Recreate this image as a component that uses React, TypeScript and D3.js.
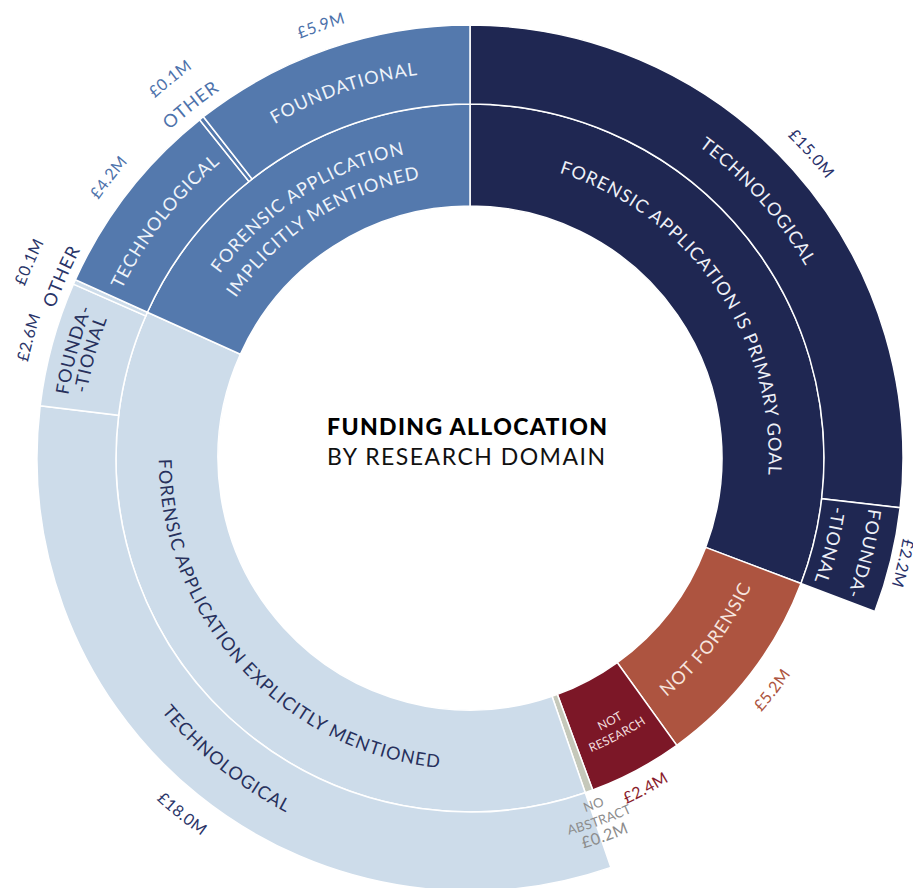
import React from "react";
import * as d3 from "d3";

// ---------- data ----------
const groupNames = ["primary", "notForensic", "notResearch", "noAbstract", "explicit", "implicit"];
const groupLabels = [
  ["FORENSIC APPLICATION IS PRIMARY GOAL"],
  ["NOT FORENSIC"],
  ["NOT", "RESEARCH"],
  ["NO", "ABSTRACT"],
  ["FORENSIC APPLICATION EXPLICITLY MENTIONED"],
  ["FORENSIC APPLICATION", "IMPLICITLY MENTIONED"],
];
// value for groups that have no sub-domain split (null = sum of sub-domains)
const groupLeafValues = [null, 5.2, 2.4, 0.2, null, null];
const subGroupIndex = [0, 0, 4, 4, 4, 5, 5, 5];
const subLabels = [
  ["TECHNOLOGICAL"],
  ["FOUNDA-", "-TIONAL"],
  ["TECHNOLOGICAL"],
  ["FOUNDA-", "-TIONAL"],
  ["OTHER"],
  ["TECHNOLOGICAL"],
  ["OTHER"],
  ["FOUNDATIONAL"],
];
const subValues = [15.0, 2.2, 18.0, 2.6, 0.1, 4.2, 0.1, 5.9];
const titleLines = ["FUNDING ALLOCATION", "BY RESEARCH DOMAIN"];

// ---------- styles / layout ----------
const groupColors = ["#1f2752", "#ad5440", "#7c1727", "#c5c8ba", "#cddcea", "#5479ad"];
const insideTextColors = ["#eef0f7", "#f6e4de", "#f3dede", "#8a8a8a", "#27305c", "#eef3fa"];
const valueColors = ["#29316a", "#ad5440", "#8a1c2c", "#8c8c8c", "#2a3468", "#4d72ab"];

const W = 913, H = 888;
const cx = 470, cy = 458;
const r0 = 252, r1 = 354, r2 = 433;

const nameRadii: Record<string, number[]> = {
  g0: [305], g1: [303], g2: [298, 314], g3: [368, 385], g4: [305], g5: [317, 290],
  s0: [393], s1: [408, 372], s2: [393], s3: [413, 395], s4: [448], s5: [393], s6: [451], s7: [393],
};
const valueRadii: Record<string, number> = { g1: 381, g2: 374, g3: 401, s1: 446, s4: 483, s6: 484 };
const nameFont: Record<string, number> = { g2: 12, g3: 13 };
const outsideNames = new Set(["s4", "s6", "g3"]);

function arcPath(theta: number, r: number, flip: boolean) {
  const span = (80 * Math.PI) / 180;
  const p = (a: number) => `${(r * Math.sin(a)).toFixed(2)},${(-r * Math.cos(a)).toFixed(2)}`;
  const a0 = theta - span, a1 = theta + span;
  return flip ? `M${p(a1)} A${r},${r} 0 0 0 ${p(a0)}` : `M${p(a0)} A${r},${r} 0 0 1 ${p(a1)}`;
}

export default function App() {
  const rootData = {
    name: "root",
    children: groupNames.map((g, i) => {
      const subs = subValues.map((v, j) => ({ v, j })).filter((o) => subGroupIndex[o.j] === i);
      return subs.length
        ? { name: g, gi: i, children: subs.map((o) => ({ name: subLabels[o.j].join(""), gi: i, si: o.j, value: o.v })) }
        : { name: g, gi: i, value: groupLeafValues[i] };
    }),
  };
  const root = d3.hierarchy<any>(rootData).sum((d: any) => (d.children ? 0 : d.value));
  d3.partition<any>().size([2 * Math.PI, 1])(root);
  const nodes = root.descendants().filter((d: any) => d.depth > 0) as any[];

  const arc = d3
    .arc<any>()
    .startAngle((d) => d.x0)
    .endAngle((d) => d.x1)
    .innerRadius((d) => (d.depth === 1 ? r0 : r1))
    .outerRadius((d) => (d.depth === 1 ? r1 : r2));

  const defs: any[] = [];
  const texts: any[] = [];
  let uid = 0;

  const addText = (theta: number, rc: number, str: string, fs: number, ls: number, fill: string, weight = 400) => {
    const deg = (theta * 180) / Math.PI;
    const flip = deg > 110 && deg < 270;
    const rb = flip ? rc + 0.35 * fs : rc - 0.35 * fs;
    const id = `tp${uid++}`;
    defs.push(<path key={id} id={id} d={arcPath(theta, rb, flip)} fill="none" />);
    texts.push(
      <text key={id + "t"} fontFamily="Lato, 'Open Sans', sans-serif" fontSize={fs} letterSpacing={ls} fill={fill} fontWeight={weight}>
        <textPath href={`#${id}`} startOffset="50%" textAnchor="middle">
          {str}
        </textPath>
      </text>
    );
  };

  nodes.forEach((d) => {
    const key = d.depth === 1 ? `g${d.data.gi}` : `s${d.data.si}`;
    const gi = d.data.gi;
    const theta = (d.x0 + d.x1) / 2;
    const lines = d.depth === 1 ? groupLabels[gi] : subLabels[d.data.si];
    const radii = nameRadii[key] || [];
    const outside = outsideNames.has(key);
    const fs = nameFont[key] || 18;
    lines.forEach((ln, i) => {
      addText(theta, radii[i], ln, fs, fs < 14 ? 0.3 : 1, outside ? valueColors[gi] : insideTextColors[gi]);
    });
    if (!d.children) {
      const vr = valueRadii[key] || 458;
      addText(theta, vr, `£${d.value.toFixed(1)}M`, 16, 0.5, valueColors[gi]);
    }
  });

  return (
    <svg width={W} height={H} style={{ position: "absolute", left: 0, top: 0, background: "#fff" }}>
      <g transform={`translate(${cx},${cy})`}>
        <defs>{defs}</defs>
        {nodes.map((d, i) => (
          <path key={i} d={arc(d) || ""} fill={groupColors[d.data.gi]} stroke="#fff" strokeWidth={1.5} />
        ))}
        {texts}
      </g>
      <text x={467} y={435} textAnchor="middle" fontFamily="Lato, sans-serif" fontWeight={900} fontSize={23} fill="#000" textLength={280}>
        {titleLines[0]}
      </text>
      <text x={466} y={465} textAnchor="middle" fontFamily="Lato, sans-serif" fontWeight={400} fontSize={23} fill="#111" textLength={278}>
        {titleLines[1]}
      </text>
    </svg>
  );
}
